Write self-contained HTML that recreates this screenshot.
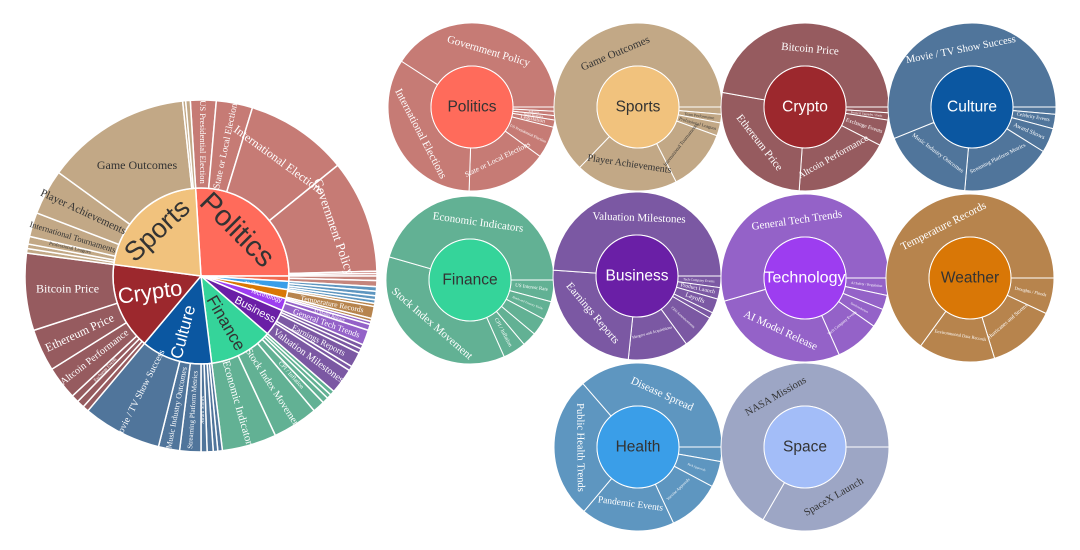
<!DOCTYPE html>
<html><head><meta charset="utf-8">
<style>
html,body{margin:0;padding:0;background:#fff;width:1080px;height:550px;overflow:hidden}
svg{display:block}
.s{font-family:"Liberation Serif",serif}
.n{font-family:"Liberation Sans",sans-serif}
</style></head>
<body>
<svg id="c" width="1080" height="550" xmlns="http://www.w3.org/2000/svg"></svg>
<script>
const svg=document.getElementById('c');
const NS='http://www.w3.org/2000/svg';
function P(cx,cy,r,a){a=a*Math.PI/180;return [cx+r*Math.cos(a),cy+r*Math.sin(a)];}
function arc(cx,cy,r0,r1,a0,a1,fill,sw){
  const big=(a1-a0)>180?1:0;let d;
  if(a1-a0>=359.99){
    d=`M${cx-r1},${cy}a${r1},${r1} 0 1,0 ${2*r1},0a${r1},${r1} 0 1,0 ${-2*r1},0`;
    if(r0>0)d+=`M${cx-r0},${cy}a${r0},${r0} 0 1,1 ${2*r0},0a${r0},${r0} 0 1,1 ${-2*r0},0`;
  }else{
    const p1=P(cx,cy,r1,a0),p2=P(cx,cy,r1,a1);
    if(r0>0){const p3=P(cx,cy,r0,a1),p4=P(cx,cy,r0,a0);
      d=`M${p1}A${r1},${r1} 0 ${big},1 ${p2}L${p3}A${r0},${r0} 0 ${big},0 ${p4}Z`;}
    else d=`M${cx},${cy}L${p1}A${r1},${r1} 0 ${big},1 ${p2}Z`;
  }
  const e=document.createElementNS(NS,'path');e.setAttribute('d',d);e.setAttribute('fill',fill);
  e.setAttribute('fill-rule','evenodd');
  e.setAttribute('stroke','#fff');e.setAttribute('stroke-width',sw||1.2);svg.appendChild(e);
}
function txt(x,y,rot,size,color,str,cls){
  const t=document.createElementNS(NS,'text');
  t.setAttribute('x',x);t.setAttribute('y',y);t.setAttribute('text-anchor','middle');
  t.setAttribute('dominant-baseline','central');t.setAttribute('font-size',size);
  t.setAttribute('fill',color);t.setAttribute('class',cls||'s');
  t.setAttribute('transform',`rotate(${rot} ${x} ${y})`);t.textContent=str;svg.appendChild(t);
}
function tang(m){m=((m%360)+360)%360;return (m>0&&m<180)?m-90:m+90;}
function rad(m){m=((m%360)+360)%360;return Math.cos(m*Math.PI/180)>=0?m:m-180;}

/* ---------- big sunburst ---------- */
const BX=201,BY=276,R1=88,R2=176;
const cats=[
 ['Politics',-93.5,0,'#FF6B5B','#C67B75','#333',[
   [-93.5,-85,'US Presidential Election',8.5,90],[-85,-73,'State or Local Elections',9.5,-78],
   [-73,-39,'International Elections',12,36],[-39,-1.6,'Government Policy',13,71],[-1.6,-0.8],[-0.8,0]],
   [237,230,45,29]],
 ['Space',0,3.5,'#F06A50','#C5857C','#fff',[[0,1.5],[1.5,3.5]],null],
 ['Health',3.5,9,'#3A9EE8','#5E96C0','#fff',[[3.5,5],[5,6.5],[6.5,7.8],[7.8,9]],null],
 ['Weather',9,15,'#D97706','#B7844D','#fff',[[9,10],[10,14,'Temperature Records',7.5,11],[14,15]],[252,283,8,4]],
 ['Technology',15,23,'#9D3DF0','#9462C8','#fff',[[15,16],[16,18,'AI Model Release',4.5,17],[18,23,'General Tech Trends',8.5,20]],[266,296,18,6.5]],
 ['Business',23,41,'#6A1FA6','#7B58A3','#fff',[[23,24.5],[24.5,26],[26,31,'Earnings Reports',8.5,27],[31,32.5],[32.5,41,'Valuation Milestones',10,36]],[255,310,28,11]],
 ['Finance',41,83,'#35D49A','#62B194','#333',[[41,42.5],[42.5,44],[44,46],[46,50,'CPI / Inflation',6,48],[50,65,'Stock Index Movement',10,57],[65,83,'Economic Indicators',11,74]],[226,323,60,17]],
 ['Culture',83,130,'#0B57A1','#50759B','#fff',[[83,84.5],[84.5,86],[86,88],[88,90,'Award Shows',5,-90],[90,97,'Streaming Platform Metrics',7,-86],[97,104,'Music Industry Outcomes',8,-79],[104,130,'Movie / TV Show Success',9.5,-63]],[183,332,-75,17]],
 ['Crypto',130,187.5,'#9C282D','#965B5F','#fff',[[130,132],[132,134.5],[134.5,137,'Exchange Events',4.5,-47],[137,148,'Altcoin Performance',10,-38],[148,162,'Ethereum Price',12,-25],[162,187.5,'Bitcoin Price',12,0]],[150,292,-8,22]],
 ['Sports',187.5,266.5,'#F1C27D','#C2A886','#333',[[187.5,189],[189,190.5],[190.5,193,'Professional Leagues',5,12],[193,201,'International Tournaments',8.5,17],[201,216,'Player Achievements',11,25],[216,264,'Game Outcomes',12,0],[264,265],[265,266.5]],[157,230,-43,27]]
];
for(const c of cats){
  arc(BX,BY,0,R1,c[1],c[2],c[3],1.5);
  for(const ch of c[6]) arc(BX,BY,R1,R2,ch[0],ch[1],c[4],1.5);
}
for(const c of cats){
  for(const ch of c[6]){ if(!ch[2])continue;
    const m=(ch[0]+ch[1])/2; let r=134;
    if(ch[2]==='Game Outcomes')r=128;
    if(ch[2]==='Government Policy')r=142;
    if(ch[2]==='International Elections')r=140;
    const p=P(BX,BY,r,m); txt(p[0],p[1],ch[4],ch[3],c[0]==='Sports'?'#333':'#fff',ch[2]);
  }
  if(c[7]) txt(c[7][0],c[7][1],c[7][2],c[7][3],c[5],c[0],'n');
}

/* ---------- small sunbursts ---------- */
function small(cx,cy,inC,outC,name,nameCol,tcol,ch){
  for(const k of ch) arc(cx,cy,41,84,k[0],k[1],outC,1);
  const ci=document.createElementNS(NS,'circle');ci.setAttribute('cx',cx);ci.setAttribute('cy',cy);
  ci.setAttribute('r',41);ci.setAttribute('fill',inC);ci.setAttribute('stroke','#fff');ci.setAttribute('stroke-width',1);
  svg.appendChild(ci);
  for(const k of ch){ if(!k[2])continue;
    const m=(k[0]+k[1])/2; const big=(k[1]-k[0])>25;
    const r=big?58:62; const p=P(cx,cy,r,m);
    const rot=(k[4]!==undefined)?k[4]:(big?tang(m):rad(m));
    txt(p[0],p[1],rot,k[3],tcol,k[2]);
  }
  txt(cx,cy,0,name==='Technology'?16:15.5,nameCol,name,'n');
}
small(472,107,'#FF6B5B','#C67B75','Politics','#333','#fff',[
 [0,3],[3,6,'Judiciary',3],[6,9,'Ballot Measures',3],[9,14,'Legislation',5.5],[14,36,'US Presidential Election',4],
 [36,92,'State or Local Elections',7.5],[92,213,'International Elections',11],[213,360,'Government Policy',11]]);
small(638,107,'#F1C27D','#C2A886','Sports','#333','#333',[
 [0,5],[5,11,'Team Performance',4],[11,20,'Professional Leagues',4.5],[20,63,'International Tournaments',5,-52],
 [63,134,'Player Achievements',10],[134,360,'Game Outcomes',11]]);
small(805,107,'#9C282D','#965B5F','Crypto','#fff','#fff',[
 [0,4],[4,9,'Protocol Upgrades / Forks',3],[9,27,'Exchange Events',5.5],[27,94,'Altcoin Performance',9.5],
 [94,190,'Ethereum Price',11],[190,360,'Bitcoin Price',11]]);
small(972,107,'#0B57A1','#50759B','Culture','#fff','#fff',[
 [0,5],[5,15,'Celebrity Events',5],[15,32,'Award Shows',6],[32,95,'Streaming Platform Metrics',5.5],
 [95,158,'Music Industry Outcomes',6],[158,360,'Movie / TV Show Success',10.5]]);
small(470,280,'#35D49A','#62B194','Finance','#333','#fff',[
 [0,15,'US Interest Rate',5],[15,28,'Bonds and Treasury Yields',3],[28,40],[40,50],[50,66,'CPI / Inflation',5.5,62],
 [66,196,'Stock Index Movement',11],[196,360,'Economic Indicators',11]]);
small(637,276,'#6A1FA6','#7B58A3','Business','#fff','#fff',[
 [0,8,'Tech Company Events',3.5],[8,16,'Product Launch',5.5],[16,26,'Layoffs',6.5],[26,30],[30,54,'CEO Announcements',3.5],
 [54,96,'Mergers and Acquisitions',4],[96,184,'Earnings Reports',11],[184,360,'Valuation Milestones',11]]);
small(805,278,'#9D3DF0','#9462C8','Technology','#fff','#fff',[
 [0,12,'AI Safety / Regulation',3.5],[12,22],[22,35,'Semiconductors',3],[35,66,'Tech Company Events',4],
 [66,164,'AI Model Release',11],[164,360,'General Tech Trends',11]]);
small(970,278,'#D97706','#B7844D','Weather','#333','#fff',[
 [0,25,'Droughts / Floods',4.5],[25,73,'Hurricanes and Storms',5.5],[73,126,'Environmental Data Records',4.5],
 [126,360,'Temperature Records',11]]);
small(638,447,'#3A9EE8','#5E96C0','Health','#333','#fff',[
 [0,10],[10,28,'FDA Approvals',3],[28,65,'Vaccine Approvals',4],[65,130,'Pandemic Events',9.5],
 [130,229,'Public Health Trends',10.5],[229,360,'Disease Spread',11]]);
small(805,447,'#A3BDF8','#9DA6C5','Space','#333','#333',[
 [0,120,'SpaceX Launch',10.5],[120,360,'NASA Missions',10.5]]);
</script>
</body></html>
